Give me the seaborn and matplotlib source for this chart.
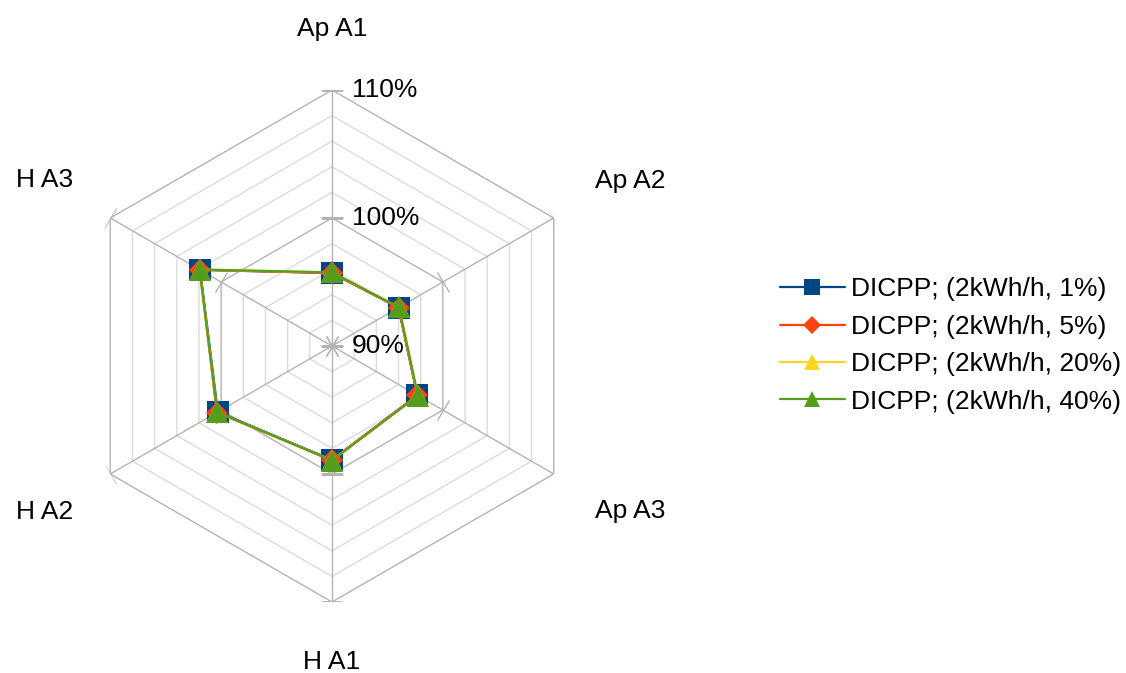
import numpy as np
import pandas as pd
import matplotlib
matplotlib.use("Agg")
import matplotlib.pyplot as plt
import seaborn as sns
from matplotlib.lines import Line2D
from matplotlib.markers import MarkerStyle
from matplotlib.transforms import Affine2D

# categories (clockwise from top)
categories = ["Ap A1", "Ap A2", "Ap A3", "H A1", "H A2", "H A3"]

# values in %
s_1 = [95.7, 96.0, 97.7, 98.9, 100.3, 101.9]
s_5 = [95.7, 96.0, 97.7, 98.9, 100.4, 101.9]
s_20 = [95.75, 96.05, 97.75, 98.95, 100.35, 101.95]
s_40 = [95.75, 96.05, 97.75, 98.95, 100.35, 101.95]

series_names = ["DICPP; (2kWh/h, 1%)", "DICPP; (2kWh/h, 5%)",
                "DICPP; (2kWh/h, 20%)", "DICPP; (2kWh/h, 40%)"]
series_vals = [s_1, s_5, s_20, s_40]
colors = ["#004586", "#ff420e", "#ffd320", "#579d1c"]
markers = ["s", "D", "^", "^"]
msizes = [16, 11, 16, 16]
leg_msizes = [12, 9, 12, 12]

r_ticks = [90, 100, 110]
r_tick_labels = ["90%", "100%", "110%"]

FS = 19
sns.set_theme(style="white")
plt.rcParams["font.family"] = ["Liberation Sans", "DejaVu Sans"]

fig = plt.figure(figsize=(11.26, 6.73), dpi=100)
W, H = 1126, 673
cx, cy, R = 332, 346, 256
ax = fig.add_axes([(cx - R) / W, (H - cy - R) / H, 2 * R / W, 2 * R / H],
                  projection="polar")
ax.set_theta_zero_location("N")
ax.set_theta_direction(-1)
ax.set_ylim(90, 110)
ax.grid(False)
ax.set_xticks([])
ax.set_yticks([])
ax.spines["polar"].set_visible(False)
ax.set_facecolor("white")

n = len(categories)
angles = np.linspace(0, 2 * np.pi, n, endpoint=False)
closed = np.append(angles, angles[0] + 2 * np.pi)

# hexagonal grid
for lvl in range(92, 111, 2):
    major = lvl in (100, 110)
    ax.plot(closed, [lvl] * (n + 1), color="#b3b3b3" if major else "#dcdcdc",
            lw=1.0, zorder=1, solid_joinstyle="miter")
for a in angles:
    ax.plot([a, a], [90, 110], color="#b3b3b3", lw=1.0, zorder=1)
    m = MarkerStyle("_", transform=Affine2D().rotate_deg(-np.degrees(a)))
    ax.plot([a] * 3, r_ticks, ls="none", marker=m, markersize=16,
            markeredgecolor="#b3b3b3", mew=1.0, zorder=1)

# radial labels
for r, lab in zip(r_ticks, r_tick_labels):
    ax.annotate(lab, (0, r), xytext=(20, 0), textcoords="offset pixels",
                ha="left", va="center", fontsize=FS, color="black",
                annotation_clip=False)

# category labels
label_pos = [(0, 114.8), (61.0, 116.6), (119.0, 116.6),
             (180, 114.7), (240, 115.9), (300, 115.9)]
for lab, (th, r) in zip(categories, label_pos):
    ax.text(np.radians(th), r, lab, ha="center", va="center",
            fontsize=FS, color="black", clip_on=False)

# series
for name, vals, c, mk, ms in zip(series_names, series_vals, colors, markers, msizes):
    df = pd.DataFrame({"theta": closed, "value": vals + [vals[0]]})
    sns.lineplot(data=df, x="theta", y="value", ax=ax, sort=False, estimator=None,
                 color=c, lw=1.6, marker=mk, markersize=ms, markeredgewidth=0,
                 zorder=3)

ax.set_xlabel("")
ax.set_ylabel("")
handles = [Line2D([], [], color=c, lw=1.6, marker=mk, markersize=ms,
                  markeredgewidth=0)
           for c, mk, ms in zip(colors, markers, leg_msizes)]
fig.legend(handles, series_names, loc="center left",
           bbox_to_anchor=(780 / W, 1 - 345.5 / H), frameon=False,
           fontsize=FS, handlelength=2.46, handletextpad=0.23,
           labelspacing=0.51, borderpad=0, borderaxespad=0, labelcolor="black")

fig.savefig("out.png", dpi=100, facecolor="white")
